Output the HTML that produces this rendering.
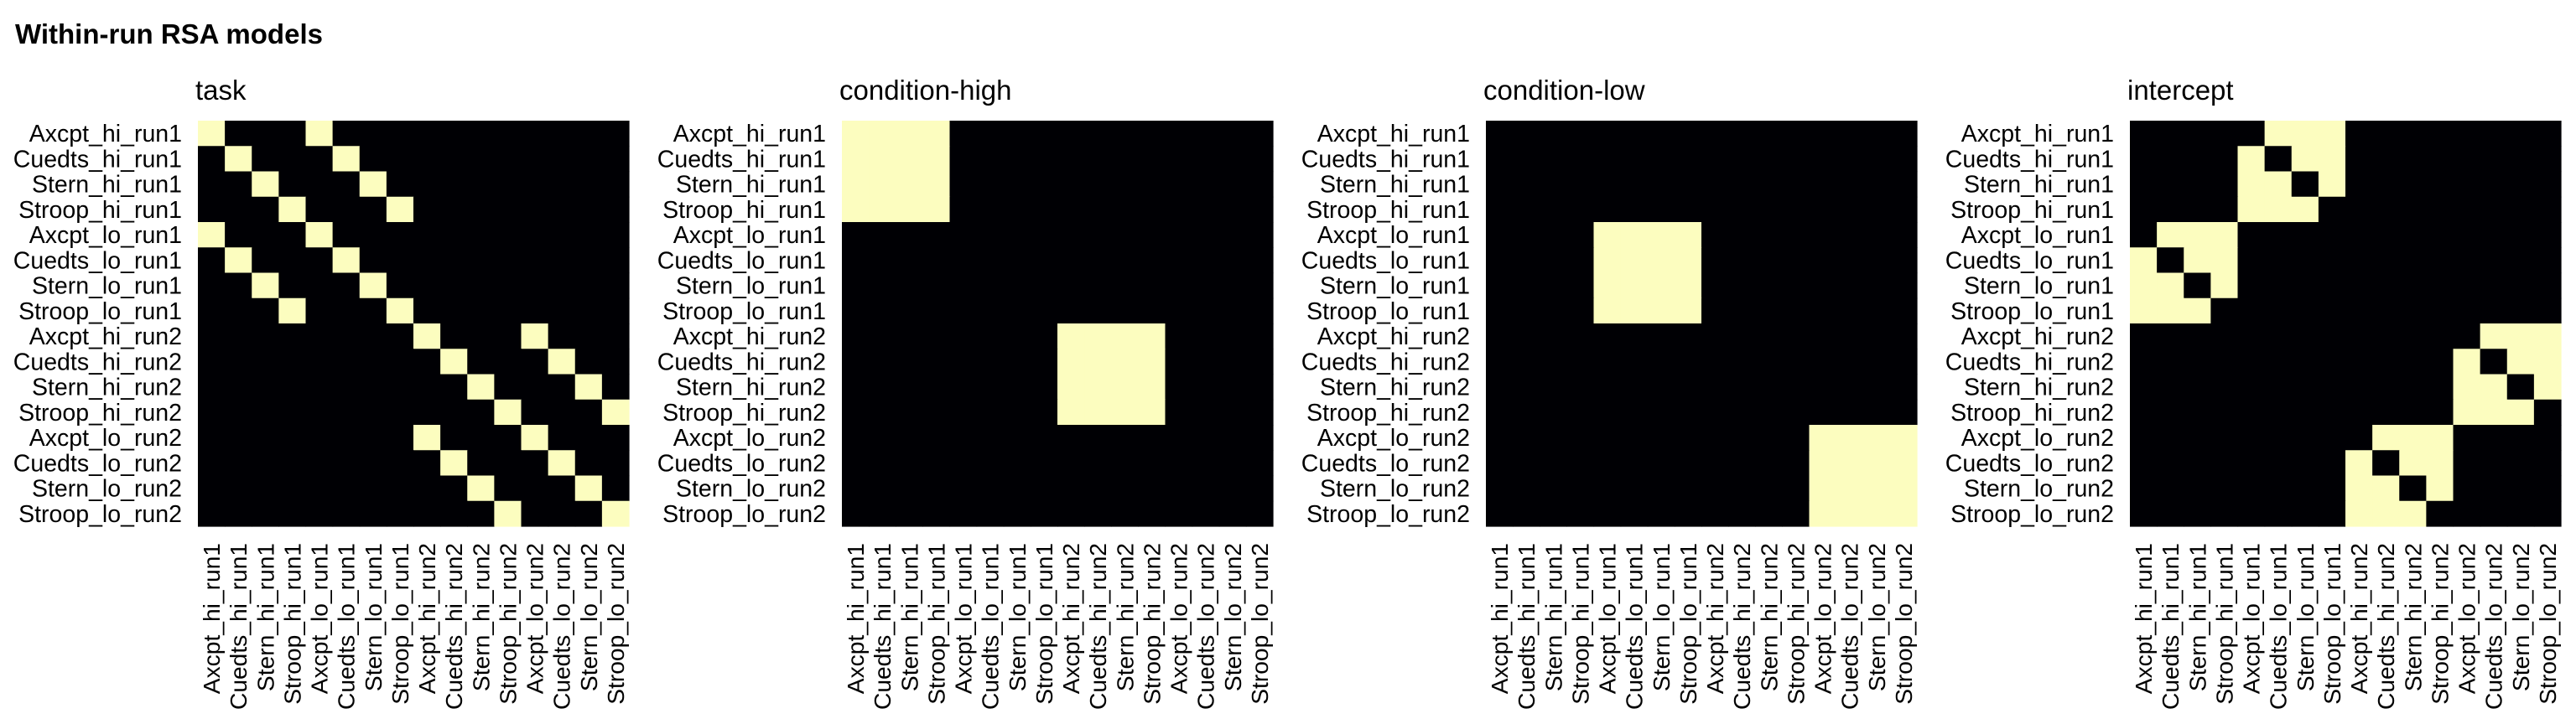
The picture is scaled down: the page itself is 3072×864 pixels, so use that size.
<!DOCTYPE html>
<html><head><meta charset="utf-8"><style>
html,body{margin:0;padding:0;background:#fff;}
svg{display:block;font-family:"Liberation Sans",Arial,sans-serif;}
</style></head><body>
<svg id="fig" width="3072" height="864" viewBox="0 0 3072 864" xmlns="http://www.w3.org/2000/svg">
<text x="18" y="52" font-size="33" font-weight="bold" fill="#000">Within-run RSA models</text>
</svg>
<script>
const labels = ["Axcpt_hi_run1","Cuedts_hi_run1","Stern_hi_run1","Stroop_hi_run1","Axcpt_lo_run1","Cuedts_lo_run1","Stern_lo_run1","Stroop_lo_run1","Axcpt_hi_run2","Cuedts_hi_run2","Stern_hi_run2","Stroop_hi_run2","Axcpt_lo_run2","Cuedts_lo_run2","Stern_lo_run2","Stroop_lo_run2"];
const panelTitles = ["task","condition-high","condition-low","intercept"];
const taskOf = [0,1,2,3,0,1,2,3,0,1,2,3,0,1,2,3];
const condOf = [0,0,0,0,1,1,1,1,0,0,0,0,1,1,1,1];
const runOf  = [0,0,0,0,0,0,0,0,1,1,1,1,1,1,1,1];
const lowColor = "#000004", highColor = "#FCFDBF";

function modelValue(m,i,j){
  const sameRun = runOf[i]===runOf[j];
  if(m===0) return sameRun && taskOf[i]===taskOf[j] ? 1 : 0;
  if(m===1) return sameRun && condOf[i]===0 && condOf[j]===0 ? 1 : 0;
  if(m===2) return sameRun && condOf[i]===1 && condOf[j]===1 ? 1 : 0;
  return sameRun && condOf[i]!==condOf[j] && taskOf[i]!==taskOf[j] ? 1 : 0;
}
const NS="http://www.w3.org/2000/svg";
const svg=document.getElementById('fig');
const pw=514, ph=484, top0=144, n=labels.length;
const cw=pw/n, ch=ph/n;
function xPos(p,j){return 236+768*p + j*cw;}
function yPos(i){return top0 + i*ch;}
panelTitles.forEach((t,p)=>{
  const g=document.createElementNS(NS,'g');
  
  
  svg.appendChild(g);
  const tt=document.createElementNS(NS,'text');
  tt.setAttribute('x', xPos(p,0)-3); tt.setAttribute('y', 119);
  tt.setAttribute('font-size','33'); tt.textContent=t;
  
  
  g.appendChild(tt);
  for(let i=0;i<n;i++){
    for(let j=0;j<n;j++){
      const r=document.createElementNS(NS,'rect');
      r.setAttribute('x', xPos(p,j)); r.setAttribute('y', yPos(i));
      r.setAttribute('width', cw+0.6); r.setAttribute('height', ch+0.6);
      r.setAttribute('fill', modelValue(p,i,j)?highColor:lowColor);
      
      
      g.appendChild(r);
    }
    const yl=document.createElementNS(NS,'text');
    yl.setAttribute('x', xPos(p,0)-19); yl.setAttribute('y', yPos(i)+ch/2+10);
    yl.setAttribute('text-anchor','end'); yl.setAttribute('font-size','28.5');
    yl.textContent=labels[i];
    
    
    g.appendChild(yl);
    const cx=xPos(p,i)+cw/2+10;
    const xl=document.createElementNS(NS,'text');
    xl.setAttribute('transform','translate('+cx+',648) rotate(-90)');
    xl.setAttribute('text-anchor','end'); xl.setAttribute('font-size','28.2');
    xl.textContent=labels[i];
    
    
    g.appendChild(xl);
  }
});
</script>
</body></html>
